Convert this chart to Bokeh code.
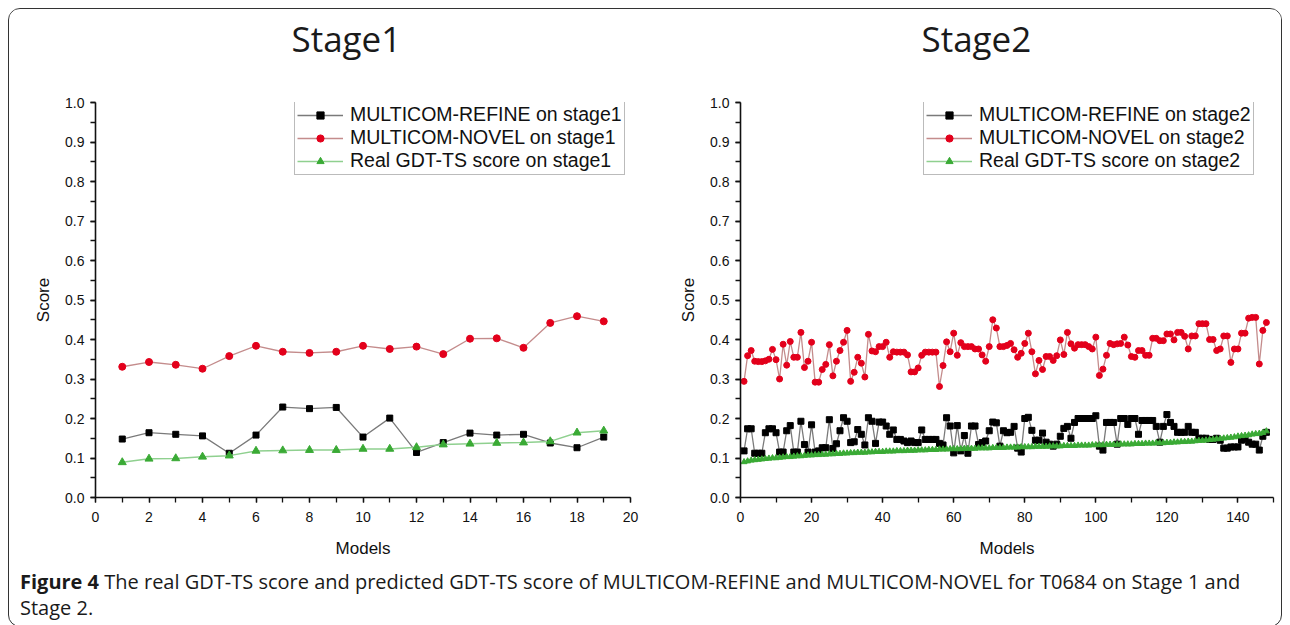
from bokeh.plotting import figure
from bokeh.layouts import row, column
from bokeh.models import (Range1d, SingleIntervalTicker, NumeralTickFormatter, Legend, LegendItem,
                          Div, Title)
from bokeh.embed import file_html
from bokeh.resources import INLINE

# ---------------- data ----------------
models1 = list(range(1, 20))
refine1 = [0.148, 0.164, 0.160, 0.156, 0.112, 0.158, 0.229, 0.225, 0.228, 0.153,
           0.201, 0.114, 0.139, 0.163, 0.158, 0.160, 0.138, 0.126, 0.153]
novel1 = [0.331, 0.343, 0.336, 0.326, 0.358, 0.384, 0.369, 0.366, 0.369, 0.384,
          0.376, 0.382, 0.363, 0.402, 0.403, 0.379, 0.442, 0.459, 0.446]
real1 = [0.089, 0.098, 0.099, 0.103, 0.106, 0.118, 0.119, 0.120, 0.120, 0.123,
         0.123, 0.127, 0.134, 0.136, 0.138, 0.139, 0.142, 0.164, 0.169]

models2 = list(range(1, 149))
refine2 = [0.118, 0.174, 0.174, 0.112, 0.112, 0.112, 0.164, 0.174, 0.174, 0.164,
           0.115, 0.115, 0.169, 0.182, 0.115, 0.115, 0.193, 0.134, 0.115, 0.184,
           0.115, 0.118, 0.126, 0.126, 0.197, 0.124, 0.136, 0.169, 0.202, 0.193,
           0.139, 0.141, 0.172, 0.160, 0.133, 0.202, 0.193, 0.137, 0.191, 0.191,
           0.181, 0.160, 0.171, 0.147, 0.147, 0.143, 0.139, 0.143, 0.139, 0.139,
           0.171, 0.147, 0.147, 0.147, 0.147, 0.137, 0.133, 0.202, 0.181, 0.113,
           0.182, 0.118, 0.157, 0.112, 0.181, 0.181, 0.134, 0.139, 0.143, 0.169,
           0.191, 0.189, 0.130, 0.169, 0.164, 0.165, 0.180, 0.125, 0.115, 0.200,
           0.203, 0.170, 0.145, 0.145, 0.163, 0.140, 0.135, 0.130, 0.135, 0.155,
           0.175, 0.180, 0.150, 0.190, 0.200, 0.200, 0.200, 0.200, 0.200, 0.207,
           0.130, 0.120, 0.190, 0.190, 0.190, 0.135, 0.200, 0.200, 0.185, 0.200,
           0.200, 0.160, 0.195, 0.195, 0.195, 0.195, 0.180, 0.140, 0.180, 0.210,
           0.190, 0.180, 0.165, 0.165, 0.165, 0.180, 0.165, 0.165, 0.150, 0.150,
           0.150, 0.147, 0.147, 0.150, 0.145, 0.125, 0.125, 0.128, 0.128, 0.128,
           0.145, 0.150, 0.140, 0.135, 0.135, 0.120, 0.155, 0.165]
novel2 = [0.294, 0.359, 0.372, 0.345, 0.344, 0.344, 0.346, 0.350, 0.375, 0.349,
          0.300, 0.388, 0.335, 0.395, 0.355, 0.355, 0.418, 0.329, 0.345, 0.393,
          0.292, 0.292, 0.324, 0.337, 0.387, 0.308, 0.345, 0.372, 0.393, 0.423,
          0.294, 0.317, 0.355, 0.340, 0.305, 0.413, 0.371, 0.369, 0.382, 0.382,
          0.393, 0.355, 0.369, 0.368, 0.368, 0.368, 0.361, 0.318, 0.318, 0.328,
          0.360, 0.368, 0.368, 0.368, 0.368, 0.281, 0.334, 0.394, 0.369, 0.416,
          0.360, 0.392, 0.382, 0.382, 0.382, 0.376, 0.376, 0.361, 0.345, 0.382,
          0.450, 0.429, 0.382, 0.382, 0.385, 0.390, 0.374, 0.355, 0.365, 0.390,
          0.416, 0.369, 0.313, 0.347, 0.324, 0.357, 0.357, 0.347, 0.359, 0.399,
          0.362, 0.418, 0.389, 0.378, 0.387, 0.387, 0.387, 0.382, 0.376, 0.406,
          0.309, 0.325, 0.360, 0.390, 0.387, 0.389, 0.390, 0.406, 0.386, 0.357,
          0.355, 0.372, 0.372, 0.360, 0.360, 0.403, 0.403, 0.397, 0.397, 0.414,
          0.414, 0.399, 0.418, 0.418, 0.408, 0.376, 0.409, 0.409, 0.440, 0.440,
          0.440, 0.400, 0.400, 0.372, 0.376, 0.409, 0.409, 0.342, 0.376, 0.376,
          0.416, 0.416, 0.454, 0.456, 0.456, 0.338, 0.423, 0.443]
real2 = [0.090, 0.092, 0.094, 0.095, 0.096, 0.097, 0.098, 0.099, 0.100, 0.100,
         0.101, 0.102, 0.103, 0.103, 0.104, 0.105, 0.105, 0.106, 0.107, 0.107,
         0.108, 0.108, 0.109, 0.109, 0.110, 0.110, 0.111, 0.111, 0.112, 0.112,
         0.113, 0.113, 0.114, 0.114, 0.114, 0.115, 0.115, 0.116, 0.116, 0.116,
         0.117, 0.117, 0.117, 0.118, 0.118, 0.118, 0.119, 0.119, 0.119, 0.120,
         0.120, 0.120, 0.121, 0.121, 0.121, 0.122, 0.122, 0.122, 0.123, 0.123,
         0.123, 0.123, 0.124, 0.124, 0.124, 0.124, 0.125, 0.125, 0.125, 0.125,
         0.126, 0.126, 0.126, 0.126, 0.127, 0.127, 0.127, 0.127, 0.128, 0.128,
         0.128, 0.128, 0.129, 0.129, 0.129, 0.129, 0.130, 0.130, 0.130, 0.130,
         0.131, 0.131, 0.131, 0.131, 0.132, 0.132, 0.132, 0.132, 0.133, 0.133,
         0.133, 0.133, 0.134, 0.134, 0.134, 0.134, 0.135, 0.135, 0.135, 0.135,
         0.136, 0.136, 0.136, 0.137, 0.137, 0.137, 0.138, 0.138, 0.138, 0.139,
         0.139, 0.140, 0.140, 0.141, 0.141, 0.142, 0.142, 0.143, 0.144, 0.144,
         0.145, 0.146, 0.147, 0.148, 0.149, 0.150, 0.151, 0.152, 0.153, 0.155,
         0.156, 0.157, 0.158, 0.160, 0.161, 0.162, 0.164, 0.168]

titles = ["Stage1", "Stage2"]
legend_labels1 = ["MULTICOM-REFINE on stage1", "MULTICOM-NOVEL on stage1", "Real GDT-TS score on stage1"]
legend_labels2 = ["MULTICOM-REFINE on stage2", "MULTICOM-NOVEL on stage2", "Real GDT-TS score on stage2"]
caption_bold = "Figure 4"
caption_rest = ("The real GDT-TS score and predicted GDT-TS score of MULTICOM-REFINE and "
                "MULTICOM-NOVEL for T0684 on Stage 1 and")
caption_line2 = "Stage 2."

AX_FONT = "Liberation Sans"


def make_panel(title, xs, refine, novel, real, labels, xmax, xint, width, bl, br,
               title_offset, leg_x, msize):
    p = figure(width=width, height=551, x_range=Range1d(0, xmax), y_range=Range1d(0, 1.0),
               output_backend="svg", toolbar_location=None, title=None,
               min_border_left=bl, min_border_right=br, min_border_top=93, min_border_bottom=63)
    p.outline_line_color = None
    p.grid.visible = False
    p.background_fill_color = "white"
    p.border_fill_color = "white"

    # spacer between the title and the plot frame
    p.add_layout(Title(text=" ", text_font_size="2px", standoff=37), "above")
    p.add_layout(Title(text=title, align="left", offset=title_offset, text_font="Open Sans",
                       text_font_style="normal", text_font_size="35px", text_color="#1a1a1a",
                       standoff=0), "above")

    for ax in (p.xaxis[0], p.yaxis[0]):
        ax.axis_line_width = 1.6
        ax.axis_line_color = "#111111"
        ax.major_tick_line_color = "#111111"
        ax.minor_tick_line_color = "#111111"
        ax.major_tick_line_width = 1.3
        ax.minor_tick_line_width = 1.3
        ax.major_tick_in = 0
        ax.major_tick_out = 5
        ax.minor_tick_in = 0
        ax.minor_tick_out = 5
        ax.major_label_text_font = AX_FONT
        ax.major_label_text_font_size = "14px"
        ax.major_label_text_color = "#111111"
        ax.axis_label_text_font = AX_FONT
        ax.axis_label_text_font_size = "17px"
        ax.axis_label_text_font_style = "normal"
        ax.axis_label_text_color = "#111111"

    p.xaxis.ticker = SingleIntervalTicker(interval=xint, num_minor_ticks=2)
    p.yaxis.ticker = SingleIntervalTicker(interval=0.1, num_minor_ticks=2)
    p.yaxis.formatter = NumeralTickFormatter(format="0.0")
    p.xaxis.axis_label = "Models"
    p.yaxis.axis_label = "Score"
    p.xaxis.major_label_standoff = 9
    p.xaxis.axis_label_standoff = 14
    p.yaxis.major_label_standoff = 6
    p.yaxis.axis_label_standoff = 9

    l_ref = p.line(xs, refine, line_color="#7a7a7a", line_width=1.3)
    s_ref = p.scatter(xs, refine, marker="square", size=msize[0], fill_color="black", line_color="black")
    l_nov = p.line(xs, novel, line_color="#c48c8c", line_width=1.3)
    s_nov = p.scatter(xs, novel, marker="circle", size=msize[1], fill_color="#e3001b", line_color="#e3001b")
    l_real = p.line(xs, real, line_color="#8fd08f", line_width=1.5)
    s_real = p.scatter(xs, real, marker="triangle", size=msize[2], fill_color="#3aaa35", line_color="#3aaa35")

    legend = Legend(items=[
        LegendItem(label=labels[0], renderers=[l_ref, s_ref]),
        LegendItem(label=labels[1], renderers=[l_nov, s_nov]),
        LegendItem(label=labels[2], renderers=[l_real, s_real]),
    ], location=(leg_x, 322))
    legend.label_text_font = AX_FONT
    legend.label_text_font_size = "19.5px"
    legend.label_text_color = "#111111"
    legend.glyph_width = 46
    legend.glyph_height = 18
    legend.label_height = 20
    legend.label_standoff = 7
    legend.spacing = 0
    legend.padding = 2
    legend.margin = 0
    legend.border_line_color = "#777777"
    legend.border_line_width = 1.2
    legend.background_fill_color = "white"
    legend.background_fill_alpha = 1.0
    p.add_layout(legend)
    return p


p1 = make_panel(titles[0], models1, refine1, novel1, real1, legend_labels1, 20, 2,
                651, 86, 30, 196, 199, (6, 7, 8))
p2 = make_panel(titles[1], models2, refine2, novel2, real2, legend_labels2, 150, 20,
                621, 80, 8, 181, 183, (6, 6, 6))

cap = Div(text="<b>" + caption_bold + "</b> " + caption_rest + "<br>" + caption_line2,
          width=1260, height=56,
          styles={"font-family": "'Open Sans'", "font-size": "20px", "line-height": "26px",
                  "color": "#1a1a1a", "padding-left": "6px", "padding-top": "4px"})

layout = column(row(p1, p2, spacing=0), cap, spacing=0,
                styles={"border": "1px solid #333333", "border-radius": "12px",
                        "overflow": "hidden", "background-color": "white",
                        "margin": "8px"})

open("out.html", "w").write(file_html(layout, INLINE))
